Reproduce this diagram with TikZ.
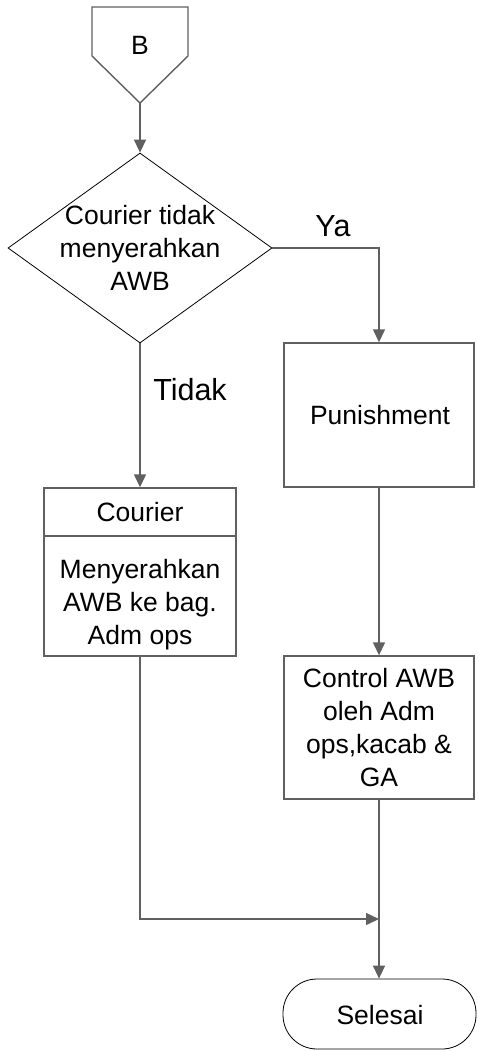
\documentclass[tikz,border=0pt]{standalone}
\usepackage{fontspec}
\setmainfont{Liberation Sans}
\usetikzlibrary{shapes.geometric,arrows.meta}
\definecolor{ln}{HTML}{606060}
\tikzset{
  x=1pt, y=-1pt,
  conn/.style={draw=ln, line width=1.4pt, -{Triangle[length=13pt,width=12pt]}},
  plain/.style={draw=ln, line width=1.4pt},
  box/.style={draw=ln, line width=1.4pt, minimum width=190pt, minimum height=144pt, inner sep=0pt},
  dec/.style={diamond, draw=black, line width=0.8pt, minimum width=264pt, minimum height=190pt, inner sep=0pt},
  term/.style={draw=black, line width=0.8pt, rounded corners=34pt, minimum width=193pt, minimum height=70pt, inner sep=0pt},
  txt/.style={align=center, font=\fontsize{26.5}{33}\selectfont, inner sep=0pt},
  lbl/.style={font=\fontsize{30.5}{34}\selectfont, inner sep=0pt}
}
\begin{document}
\begin{tikzpicture}
\useasboundingbox (0,0) rectangle (477,1051);
% off-page connector
\draw[plain] (92,7) -- (188,7) -- (188,56) -- (140,103) -- (92,56) -- cycle;
\coordinate (btip) at (140,103);
\node[txt] (b) at (140,45) {B};
% decision
\node[dec] (d) at (140,248) {};
\node[txt] (dt) at (140,248) {Courier tidak\\menyerahkan\\AWB};
% punishment
\node[box] (p) at (379,415) {};
\node[txt] (pt) at (380,415) {Punishment};
% courier box
\node[box, minimum width=192pt, minimum height=168pt] (c) at (140,572) {};
\draw[plain] (44,536) -- (236,536);
\node[txt] (ch) at (140,512) {Courier};
\node[txt] (cb) at (140,605) {Menyerahkan\\AWB ke bag.\\Adm ops};
% control box
\node[box, minimum height=143pt] (k) at (379,727.5) {};
\node[txt] (kt) at (379,727.5) {Control AWB\\oleh Adm\\ops,kacab \&\\GA};
% terminal
\node[term] (s) at (379.5,1014) {};
\node[txt] (st) at (380,1015) {Selesai};
% labels
\node[lbl] (ya) at (333,226) {Ya};
\node[lbl] (tidak) at (190,390) {Tidak};
% connectors
\coordinate (m) at (379,919);
\draw[conn] (btip) -- (d.north);
\draw[conn] (d.east) -| (p.north);
\draw[conn] (d.south) -- (c.north);
\draw[conn] (p.south) -- (k.north);
\draw[conn] (c.south) |- (m);
\draw[conn] (k.south) -- (s.north -| k.south);
\end{tikzpicture}
\end{document}
